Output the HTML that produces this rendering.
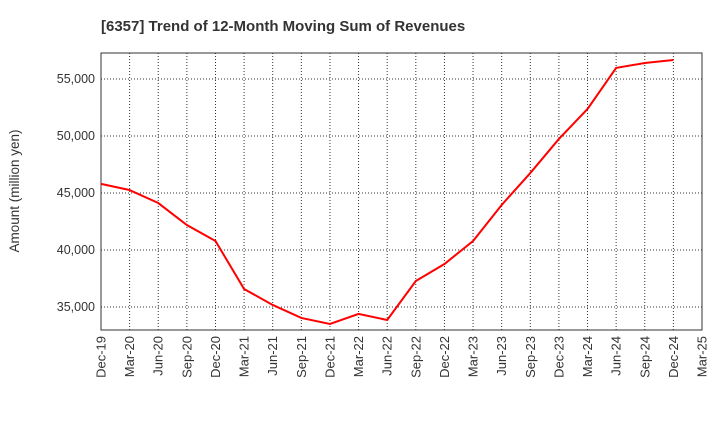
<!DOCTYPE html>
<html><head><meta charset="utf-8"><style>
body{margin:0;background:#fff;font-family:"Liberation Sans",sans-serif;}
</style></head><body>
<svg width="720" height="440" xmlns="http://www.w3.org/2000/svg">
<text x="101" y="31" font-size="15" font-weight="bold" fill="#333">[6357]  Trend of 12-Month Moving Sum of Revenues</text>
<rect x="101" y="53" width="601" height="277" fill="#fff" stroke="#333"/>
<g id="grid"></g><g id="yt"></g><g id="xt"></g>
<text transform="translate(19,191) rotate(-90)" text-anchor="middle" font-size="13.5" fill="#333">Amount (million yen)</text>
<path id="line" fill="none" stroke="#ff0000" stroke-width="2"/>
</svg>
<script>
const xLabels=["Dec-19","Mar-20","Jun-20","Sep-20","Dec-20","Mar-21","Jun-21","Sep-21","Dec-21","Mar-22","Jun-22","Sep-22","Dec-22","Mar-23","Jun-23","Sep-23","Dec-23","Mar-24","Jun-24","Sep-24","Dec-24","Mar-25"];
const values=[45800,45260,44120,42190,40790,36580,35180,34040,33510,34390,33860,37280,38770,40790,43950,46750,49740,52370,55970,56400,56670];
const yTicks=[35000,40000,45000,50000,55000];
const L=101,R=702,T=53,B=330,yMin=32982,yMax=57280;
const X=i=>L+i*(R-L)/(xLabels.length-1);
const Y=v=>B-(v-yMin)/(yMax-yMin)*(B-T);
const NS="http://www.w3.org/2000/svg";
const g=document.getElementById('grid'),yt=document.getElementById('yt'),xt=document.getElementById('xt');
function mk(t,a,p){const e=document.createElementNS(NS,t);for(const k in a)e.setAttribute(k,a[k]);p.appendChild(e);return e;}
yTicks.forEach(v=>{
 const l=mk('line',{x1:L,x2:R,y1:Y(v),y2:Y(v),stroke:'#333','stroke-dasharray':'1,2','stroke-width':1},g);
 
 
 const t=mk('text',{x:L-6,y:Y(v)+4,'text-anchor':'end','font-size':12.5,fill:'#333'},yt);
 t.textContent=v.toLocaleString('en-US');
 
 
});
xLabels.forEach((s,i)=>{
 if(i>0&&i<xLabels.length-1){const l=mk('line',{x1:X(i),x2:X(i),y1:T,y2:B,stroke:'#333','stroke-dasharray':'1,2','stroke-width':1},g);
 
 }
 const t=mk('text',{transform:`translate(${X(i)+4.5},${B+6}) rotate(-90)`,'text-anchor':'end','font-size':13,fill:'#333'},xt);
 t.textContent=s;
 
 
});
document.getElementById('line').setAttribute('d',values.map((v,i)=>(i?'L':'M')+X(i)+','+Y(v)).join(''));
</script>
</body></html>
